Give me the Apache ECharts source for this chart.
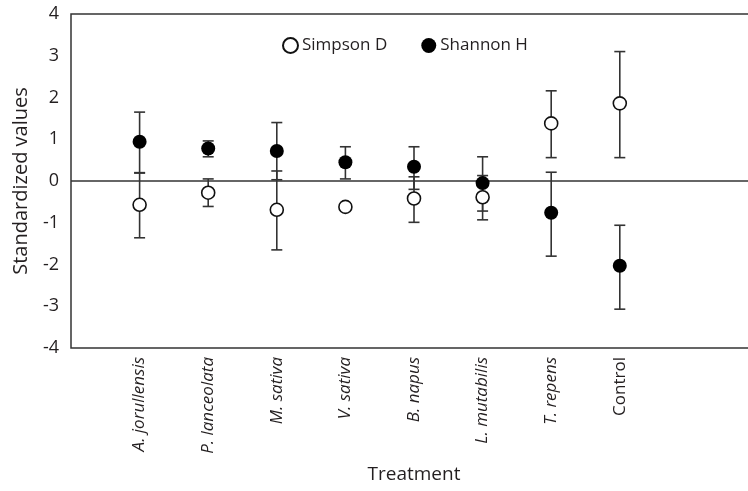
<!DOCTYPE html>
<html>
<head>
<meta charset="utf-8">
<script src="https://cdn.jsdelivr.net/npm/echarts@6/dist/echarts.min.js"></script>
<style>
html, body { margin: 0; padding: 0; background: #fff; }
#chart { width: 748px; height: 491px; }
</style>
</head>
<body>
<div id="chart"></div>
<script>
// treatments, placed at x = 1..8
var treatments = ['A. jorullensis', 'P. lanceolata', 'M. sativa', 'V. sativa',
	'B. napus', 'L. mutabilis', 'T. repens', 'Control'];

// Simpson D (open circles)
var simpsonMean = [-0.57, -0.28, -0.69, -0.62, -0.42, -0.39, 1.38, 1.86];
var simpsonLow  = [-1.36, -0.61, -1.65, -0.62, -0.99, -0.93, 0.56, 0.56];
var simpsonHigh = [0.20, 0.05, 0.24, -0.62, 0.10, 0.13, 2.16, 3.10];

// Shannon H (filled circles)
var shannonMean = [0.94, 0.78, 0.72, 0.45, 0.34, -0.05, -0.76, -2.03];
var shannonLow  = [0.19, 0.58, 0.03, 0.05, -0.20, -0.72, -1.80, -3.07];
var shannonHigh = [1.65, 0.96, 1.40, 0.82, 0.82, 0.58, 0.21, -1.06];

var yTicks = [-4, -3, -2, -1, 0, 1, 2, 3, 4];

var textColor = '#231f20';
var lineColor = '#333333';

function points(mean){
	var out = [];
	for(var i = 0; i < mean.length; ++i){
		out.push([i + 1, mean[i]]);
	}
	return out;
}

function bars(low, high){
	var out = [];
	for(var i = 0; i < low.length; ++i){
		out.push([i + 1, low[i], high[i]]);
	}
	return out;
}

// error bar with caps
function renderBar(params, api){
	var x = api.value(0);
	var lo = api.coord([x, api.value(1)]);
	var hi = api.coord([x, api.value(2)]);
	var cap = 5.5;
	var style = { stroke: lineColor, lineWidth: 1.6 };
	return {
		type: 'group',
		children: [
			{ type: 'line', shape: { x1: lo[0], y1: lo[1], x2: hi[0], y2: hi[1] }, style: style },
			{ type: 'line', shape: { x1: lo[0] - cap, y1: lo[1], x2: lo[0] + cap, y2: lo[1] }, style: style },
			{ type: 'line', shape: { x1: hi[0] - cap, y1: hi[1], x2: hi[0] + cap, y2: hi[1] }, style: style }
		]
	};
}

var chart = echarts.init(document.getElementById('chart'), null, { renderer: 'canvas' });

var option = {
	animation: false,
	textStyle: { fontFamily: 'Open Sans', color: textColor },
	grid: {
		left: 71, top: 14, width: 686, height: 334,
		outerBoundsMode: 'none',
		containLabel: false,
		show: true, borderColor: lineColor, borderWidth: 1.5,
		backgroundColor: 'transparent'
	},
	legend: {
		left: 277, top: 32,
		itemWidth: 15, itemHeight: 15, itemGap: 34,
		textStyle: { fontFamily: 'Open Sans', fontSize: 17, color: textColor, padding: [0, 0, 0, -1] },
		data: [
			{ name: 'Simpson D', icon: 'circle' },
			{ name: 'Shannon H', icon: 'circle' }
		]
	},
	xAxis: {
		type: 'value',
		min: 0, max: 10, interval: 1,
		name: 'Treatment',
		nameLocation: 'middle',
		nameGap: 117,
		nameTextStyle: { fontFamily: 'Open Sans', fontSize: 19, color: textColor },
		axisLine: { show: false },
		axisTick: { show: false },
		splitLine: { show: false },
		axisLabel: {
			rotate: 90,
			margin: 9,
			fontSize: 17,
			color: textColor,
			formatter: function(v){
				var name = treatments[v - 1];
				if(!name){
					return '';
				}
				return name === 'Control' ? '{n|' + name + '}' : '{i|' + name + '}';
			},
			rich: {
				i: { fontStyle: 'italic', fontFamily: 'Open Sans', fontSize: 17, color: textColor },
				n: { fontFamily: 'Open Sans', fontSize: 17, color: textColor }
			}
		}
	},
	yAxis: {
		type: 'value',
		min: yTicks[0], max: yTicks[yTicks.length - 1], interval: 1,
		name: 'Standardized values',
		nameLocation: 'middle',
		nameGap: 40,
		nameTextStyle: { fontFamily: 'Open Sans', fontSize: 20, color: textColor },
		axisLine: { show: false },
		axisTick: { show: false },
		splitLine: { show: false },
		axisLabel: { fontSize: 18, color: textColor, margin: 12 }
	},
	series: [
		{
			name: 'zero',
			type: 'line',
			data: [],
			silent: true,
			markLine: {
				symbol: 'none',
				silent: true,
				label: { show: false },
				lineStyle: { color: lineColor, width: 1.5, type: 'solid' },
				data: [{ yAxis: 0 }]
			}
		},
		{
			name: 'simpsonBars',
			type: 'custom',
			renderItem: renderBar,
			data: bars(simpsonLow, simpsonHigh),
			z: 3
		},
		{
			name: 'shannonBars',
			type: 'custom',
			renderItem: renderBar,
			data: bars(shannonLow, shannonHigh),
			z: 3
		},
		{
			name: 'Simpson D',
			type: 'scatter',
			symbol: 'circle',
			symbolSize: 13,
			itemStyle: { color: '#ffffff', borderColor: '#111', borderWidth: 1.6, opacity: 1 },
			data: points(simpsonMean),
			z: 5
		},
		{
			name: 'Shannon H',
			type: 'scatter',
			symbol: 'circle',
			symbolSize: 14,
			itemStyle: { color: '#000', borderColor: '#000', borderWidth: 0, opacity: 1 },
			data: points(shannonMean),
			z: 6
		}
	]
};

chart.setOption(option);
</script>
</body>
</html>
